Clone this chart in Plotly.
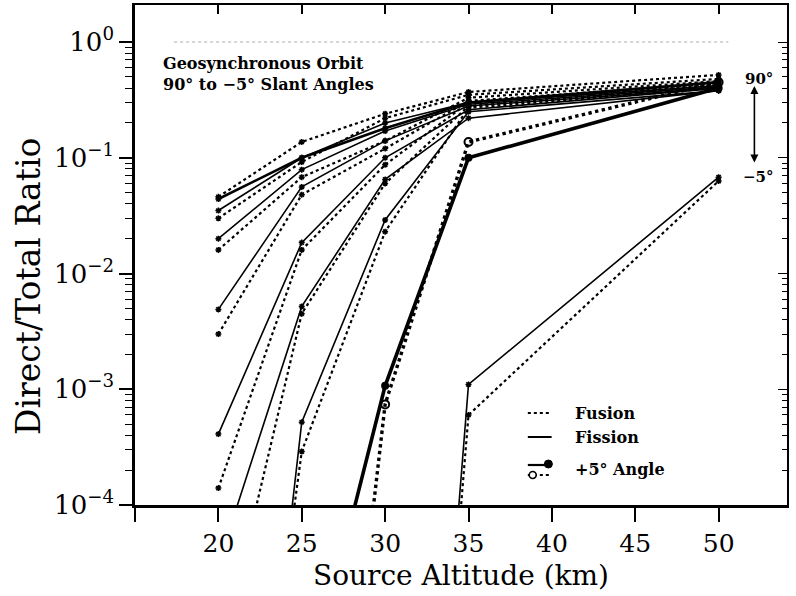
import plotly.graph_objects as go

# ---------------- data ----------------
altitude_km = [20, 25, 30, 35, 50]

# slant-angle families, from 90 deg (top) downwards; solid = fission, dotted = fusion
fission_1 = [0.044, 0.100, 0.180, 0.300, 0.45]
fusion_1 = [0.046, 0.137, 0.240, 0.370, 0.52]
fission_2 = [0.035, 0.100, 0.200, 0.300, 0.42]
fusion_2 = [0.030, 0.092, 0.220, 0.350, 0.48]
fission_3 = [0.020, 0.079, 0.170, 0.290, 0.41]
fusion_3 = [0.016, 0.068, 0.140, 0.330, 0.46]
fission_4 = [0.0049, 0.056, 0.140, 0.280, 0.40]
fusion_4 = [0.0030, 0.048, 0.120, 0.310, 0.44]
fission_5 = [0.00041, 0.0185, 0.100, 0.260, 0.40]
fusion_5 = [0.00014, 0.016, 0.087, 0.300, 0.43]
fission_6 = [3.1e-5, 0.0052, 0.065, 0.220, 0.38]
fusion_6 = [4.0e-6, 0.0045, 0.060, 0.280, 0.42]
fission_7 = [2.5e-10, 0.00052, 0.029, 0.250, 0.38]
fusion_7 = [1.3e-9, 0.00029, 0.023, 0.270, 0.40]
fission_plus5 = [None, 1.5e-6, 0.00107, 0.100, 0.40]
fusion_plus5 = [None, 4.0e-10, 0.00074, 0.137, 0.45]
fission_minus5 = [None, None, 1e-12, 0.0011, 0.068]
fusion_minus5 = [None, None, 1e-12, 0.0006, 0.063]

x_tick_vals = [15, 20, 25, 30, 35, 40, 45, 50]
x_tick_text = ["", "20", "25", "30", "35", "40", "45", "50"]
y_tick_vals = [1e-4, 1e-3, 1e-2, 1e-1, 1]
y_tick_text = ["10<sup>−4</sup>", "10<sup>−3</sup>", "10<sup>−2</sup>",
               "10<sup>−1</sup>", "10<sup>0</sup>"]
y_minor_vals = [m * 10 ** e for e in range(-4, 0) for m in range(2, 10)]

FONT = "DejaVu Serif"
fig = go.Figure()

regular = [
    (fission_1, "solid", 2.6), (fusion_1, "dot", 2.2),
    (fission_2, "solid", 1.6), (fusion_2, "dot", 2.2),
    (fission_3, "solid", 1.6), (fusion_3, "dot", 2.2),
    (fission_4, "solid", 1.6), (fusion_4, "dot", 2.2),
    (fission_5, "solid", 1.6), (fusion_5, "dot", 2.2),
    (fission_6, "solid", 1.6), (fusion_6, "dot", 2.2),
    (fission_7, "solid", 1.6), (fusion_7, "dot", 2.2),
    (fission_minus5, "solid", 1.6), (fusion_minus5, "dot", 2.2),
]
for vals, dash, w in regular:
    fig.add_trace(go.Scatter(
        x=altitude_km, y=vals, mode="lines+markers",
        line=dict(color="black", width=w, dash=dash),
        marker=dict(symbol="asterisk-open", size=5, color="black",
                    line=dict(color="black", width=1.5)),
        connectgaps=False, hoverinfo="skip"))

fig.add_trace(go.Scatter(
    x=altitude_km, y=fission_plus5, mode="lines+markers",
    line=dict(color="black", width=3.6),
    marker=dict(symbol="circle", size=8, color="black")))
fig.add_trace(go.Scatter(
    x=altitude_km, y=fusion_plus5, mode="lines+markers",
    line=dict(color="black", width=3.4, dash="dot"),
    marker=dict(symbol="circle-open", size=8, color="black",
                line=dict(color="black", width=2))))

# empty trace so the mirrored frame axes are drawn
fig.add_trace(go.Scatter(x=[], y=[], xaxis="x2", yaxis="y2", showlegend=False))

xr = [15, 54.1]
yr = [-4, 0.32]
fig.update_layout(
    width=796, height=596,
    margin=dict(l=135, r=9, t=5, b=91),
    plot_bgcolor="white", paper_bgcolor="white",
    showlegend=False,
    font=dict(family=FONT, color="black"),
    xaxis=dict(range=xr, tickmode="array", tickvals=x_tick_vals, ticktext=x_tick_text,
               ticks="outside", ticklen=14, tickwidth=1.6, tickcolor="black",
               showline=True, linewidth=2.6, linecolor="black",
               showgrid=False, zeroline=False, automargin=False,
               tickfont=dict(family=FONT, size=25),
               title=dict(text="Source Altitude (km)", font=dict(family=FONT, size=28),
                          standoff=9)),
    yaxis=dict(type="log", range=yr, tickmode="array", tickvals=y_tick_vals,
               ticktext=y_tick_text,
               ticks="outside", ticklen=13, tickwidth=1.6, tickcolor="black",
               minor=dict(tickmode="array", tickvals=y_minor_vals, ticks="outside",
                          ticklen=7, tickwidth=1.2, tickcolor="black", showgrid=False),
               showline=True, linewidth=2.6, linecolor="black",
               showgrid=False, zeroline=False, automargin=False,
               tickfont=dict(family=FONT, size=26)),
    xaxis2=dict(overlaying="x", side="top", anchor="y", range=xr,
                tickmode="array", tickvals=x_tick_vals[1:],
                ticks="inside", ticklen=9, tickwidth=1.6, tickcolor="black",
                showticklabels=False, showline=True, linewidth=2, linecolor="black",
                showgrid=False, zeroline=False, automargin=False),
    yaxis2=dict(overlaying="y", side="right", anchor="x", type="log", range=yr,
                tickmode="array", tickvals=y_tick_vals,
                ticks="inside", ticklen=9, tickwidth=1.4, tickcolor="black",
                minor=dict(tickmode="array", tickvals=y_minor_vals, ticks="inside",
                           ticklen=5, tickwidth=1, tickcolor="black", showgrid=False),
                showticklabels=False, showline=True, linewidth=2, linecolor="black",
                showgrid=False, zeroline=False, automargin=False),
)

# y-axis title (placed as in the reference, slightly below the plot centre)
fig.add_annotation(xref="paper", yref="paper", x=-0.164, y=0.436, textangle=-90,
                   xanchor="center", yanchor="middle",
                   showarrow=False, text="Direct/Total Ratio",
                   font=dict(family=FONT, size=33))

# faint broken line across the top (scan artifact near 10^0)
fig.add_shape(type="line", xref="paper", yref="paper", x0=0.06, x1=0.91,
              y0=0.926, y1=0.926, line=dict(color="#aaaaaa", width=1, dash="dot"))

# text annotations
fig.add_annotation(xref="paper", yref="paper", x=0.040, y=0.906,
                   xanchor="left", yanchor="top", align="left", showarrow=False,
                   text="<b>Geosynchronous Orbit<br>90° to −5° Slant Angles</b>",
                   font=dict(family=FONT, size=16))
fig.add_annotation(xref="paper", yref="paper", x=0.932, y=0.874, xanchor="left",
                   showarrow=False, text="<b>90°</b>", font=dict(family=FONT, size=15))
fig.add_annotation(xref="paper", yref="paper", x=0.930, y=0.656, xanchor="left",
                   showarrow=False, text="<b>−5°</b>", font=dict(family=FONT, size=15))
fig.add_annotation(xref="paper", yref="paper", x=0.950, y=0.685, ax=0, ay=-78,
                   text="", showarrow=True, arrowhead=2, arrowside="end+start",
                   arrowsize=1, arrowwidth=1.6, arrowcolor="black")

# hand-made legend
lx0, lx1 = 0.6025, 0.639
fig.add_shape(type="line", xref="paper", yref="paper", x0=lx0, x1=lx1, y0=0.184, y1=0.184,
              line=dict(color="black", width=2, dash="dot"))
fig.add_shape(type="line", xref="paper", yref="paper", x0=lx0, x1=lx1, y0=0.136, y1=0.136,
              line=dict(color="black", width=2))
fig.add_shape(type="line", xref="paper", yref="paper", x0=lx0, x1=lx1, y0=0.080, y1=0.080,
              line=dict(color="black", width=2.2))
fig.add_shape(type="line", xref="paper", yref="paper", x0=lx0, x1=lx1, y0=0.060, y1=0.060,
              line=dict(color="black", width=2, dash="dot"))
fig.add_shape(type="circle", xref="paper", yref="paper", xsizemode="pixel",
              ysizemode="pixel", xanchor=0.634, yanchor=0.082, x0=-4, x1=4, y0=-4, y1=4,
              fillcolor="black", line=dict(color="black", width=1))
fig.add_shape(type="circle", xref="paper", yref="paper", xsizemode="pixel",
              ysizemode="pixel", xanchor=0.610, yanchor=0.060, x0=-3.5, x1=3.5, y0=-3.5,
              y1=3.5, fillcolor="white", line=dict(color="black", width=1.6))
for txt, yy in [("Fusion", 0.184), ("Fission", 0.136), ("+5° Angle", 0.070)]:
    fig.add_annotation(xref="paper", yref="paper", x=0.6715, y=yy, xanchor="left",
                       yanchor="middle", showarrow=False, text="<b>" + txt + "</b>",
                       font=dict(family=FONT, size=16))

fig.write_html("out.html", config={"displayModeBar": False},
               post_script="document.body.style.margin='0';")
